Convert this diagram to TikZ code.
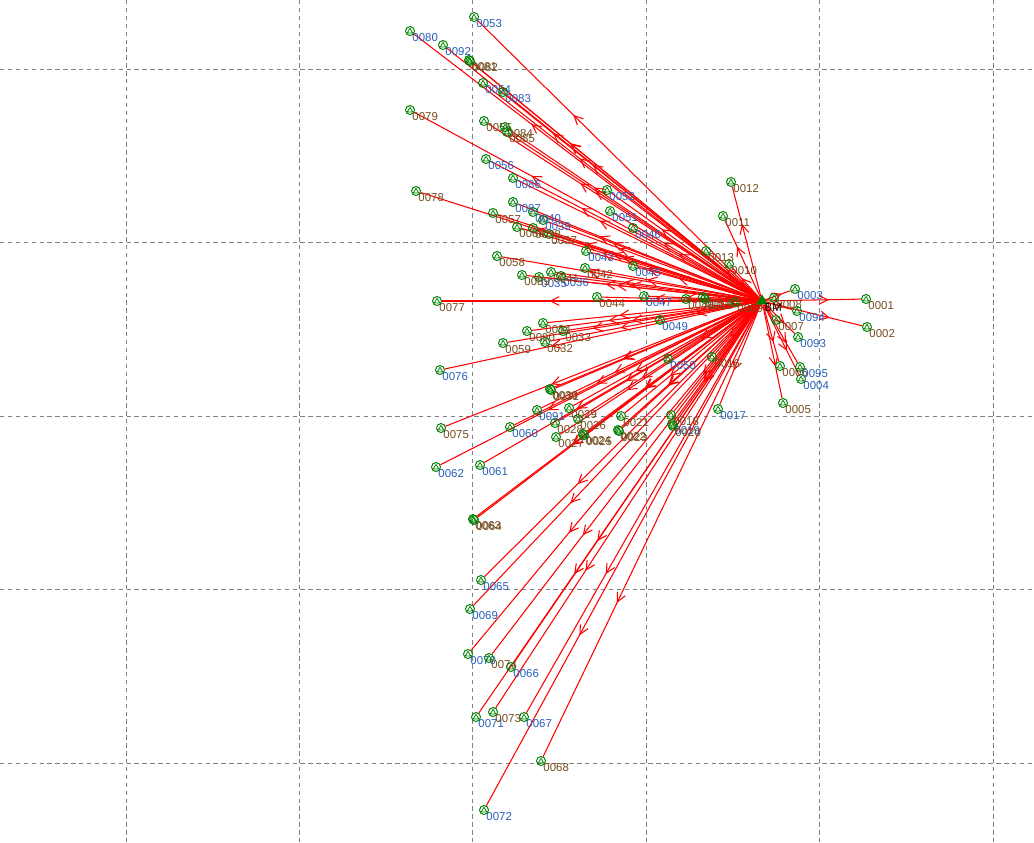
\documentclass[tikz,border=0pt]{standalone}
\usepackage{fontspec}
\setmainfont{Liberation Sans}
\usepackage{xcolor}
\usetikzlibrary{arrows.meta, decorations.markings, shapes.geometric, backgrounds}

\definecolor{labblue}{RGB}{40,95,185}
\definecolor{laborg}{RGB}{115,75,30}
\definecolor{stngreen}{RGB}{0,128,0}

\begin{document}
\begin{tikzpicture}[
  x=0.02cm, y=-0.02cm,
  stn/.style={circle, draw=stngreen, line width=0.55pt, minimum size=0.18cm, inner sep=0pt,
              path picture={\draw[stngreen, line width=0.45pt]
                ([shift={(-0.055cm,-0.04cm)}]path picture bounding box.center) --
                ([shift={(0.055cm,-0.04cm)}]path picture bounding box.center) --
                ([shift={(0cm,0.055cm)}]path picture bounding box.center) -- cycle;}},
  bmark/.style={regular polygon, regular polygon sides=3, fill=stngreen, inner sep=0pt, minimum size=0.27cm},
  labtext/.style={font=\fontsize{6.5}{7}\selectfont, inner sep=0pt, label distance=-0.04cm},
  lb/.style={label={[labtext, text=labblue]south east:#1}},
  lo/.style={label={[labtext, text=laborg]south east:#1}},
  ray/.style={red, line width=0.6pt, postaction={decorate},
              decoration={markings, mark=at position 0.66 with {\arrow{Straight Barb[length=5pt,width=5pt]}}}},
  gridline/.style={gray, line width=0.5pt, dash pattern=on 2.5pt off 2pt},
]
  \useasboundingbox (0,0) rectangle (1034,842);

  % base station
  \node[bmark, label={[labtext, text=black]south east:BM}] (bm) at (762,301) {};

  % stations
  \node[stn, lo=0001] (p0001) at (866,299) {};
  \node[stn, lo=0002] (p0002) at (867,327) {};
  \node[stn, lb=0003] (p0003) at (795,289) {};
  \node[stn, lb=0004] (p0004) at (801,379) {};
  \node[stn, lo=0005] (p0005) at (783,403) {};
  \node[stn, lo=0006] (p0006) at (780,366) {};
  \node[stn, lo=0007] (p0007) at (776,320) {};
  \node[stn, lo=0008] (p0008) at (774,298) {};
  \node[stn, lo=0009] (p0009) at (735,302) {};
  \node[stn, lo=0010] (p0010) at (729,264) {};
  \node[stn, lo=0011] (p0011) at (723,216) {};
  \node[stn, lo=0012] (p0012) at (731,182) {};
  \node[stn, lo=0013] (p0013) at (706,251) {};
  \node[stn, lo=0014] (p0014) at (703,297) {};
  \node[stn, lo=0015] (p0015) at (705,299) {};
  \node[stn, lo=0016] (p0016) at (712,357) {};
  \node[stn, lb=0017] (p0017) at (718,409) {};
  \node[stn, lo=0018] (p0018) at (671,415) {};
  \node[stn, lb=0019] (p0019) at (672,424) {};
  \node[stn, lo=0020] (p0020) at (673,426) {};
  \node[stn, lo=0021] (p0021) at (621,416) {};
  \node[stn, lo=0022] (p0022) at (618,430) {};
  \node[stn, lo=0023] (p0023) at (619,431) {};
  \node[stn, lo=0024] (p0024) at (583,434) {};
  \node[stn, lo=0025] (p0025) at (584,435) {};
  \node[stn, lo=0026] (p0026) at (578,419) {};
  \node[stn, lo=0027] (p0027) at (556,437) {};
  \node[stn, lo=0028] (p0028) at (555,423) {};
  \node[stn, lo=0029] (p0029) at (569,408) {};
  \node[stn, lo=0030] (p0030) at (550,389) {};
  \node[stn, lo=0031] (p0031) at (551,390) {};
  \node[stn, lo=0032] (p0032) at (545,342) {};
  \node[stn, lo=0033] (p0033) at (563,331) {};
  \node[stn, lo=0034] (p0034) at (543,323) {};
  \node[stn, lb=0035] (p0035) at (539,277) {};
  \node[stn, lb=0036] (p0036) at (561,276) {};
  \node[stn, lo=0037] (p0037) at (549,234) {};
  \node[stn, lo=0038] (p0038) at (533,228) {};
  \node[stn, lb=0039] (p0039) at (543,220) {};
  \node[stn, lb=0040] (p0040) at (533,212) {};
  \node[stn, lo=0041] (p0041) at (551,272) {};
  \node[stn, lo=0042] (p0042) at (585,268) {};
  \node[stn, lb=0043] (p0043) at (586,251) {};
  \node[stn, lo=0044] (p0044) at (597,297) {};
  \node[stn, lb=0045] (p0045) at (633,266) {};
  \node[stn, lb=0046] (p0046) at (633,228) {};
  \node[stn, lb=0047] (p0047) at (644,296) {};
  \node[stn, lo=0048] (p0048) at (686,299) {};
  \node[stn, lb=0049] (p0049) at (660,320) {};
  \node[stn, lb=0050] (p0050) at (668,359) {};
  \node[stn, lb=0051] (p0051) at (610,211) {};
  \node[stn, lb=0052] (p0052) at (607,190) {};
  \node[stn, lb=0053] (p0053) at (474,17) {};
  \node[stn, lb=0054] (p0054) at (483,83) {};
  \node[stn, lo=0055] (p0055) at (484,121) {};
  \node[stn, lb=0056] (p0056) at (486,159) {};
  \node[stn, lo=0057] (p0057) at (493,213) {};
  \node[stn, lo=0058] (p0058) at (497,256) {};
  \node[stn, lo=0059] (p0059) at (503,343) {};
  \node[stn, lb=0060] (p0060) at (510,427) {};
  \node[stn, lb=0061] (p0061) at (480,465) {};
  \node[stn, lb=0062] (p0062) at (436,467) {};
  \node[stn, lo=0063] (p0063) at (473,519) {};
  \node[stn, lo=0064] (p0064) at (474,520) {};
  \node[stn, lb=0065] (p0065) at (481,580) {};
  \node[stn, lb=0066] (p0066) at (511,667) {};
  \node[stn, lb=0067] (p0067) at (524,717) {};
  \node[stn, lo=0068] (p0068) at (541,761) {};
  \node[stn, lb=0069] (p0069) at (470,609) {};
  \node[stn, lb=0070] (p0070) at (468,654) {};
  \node[stn, lb=0071] (p0071) at (476,717) {};
  \node[stn, lb=0072] (p0072) at (484,810) {};
  \node[stn, lo=0073] (p0073) at (493,712) {};
  \node[stn, lo=0074] (p0074) at (489,658) {};
  \node[stn, lo=0075] (p0075) at (441,428) {};
  \node[stn, lb=0076] (p0076) at (440,370) {};
  \node[stn, lo=0077] (p0077) at (437,301) {};
  \node[stn, lo=0078] (p0078) at (416,191) {};
  \node[stn, lo=0079] (p0079) at (410,110) {};
  \node[stn, lb=0080] (p0080) at (410,31) {};
  \node[stn, lo=0081] (p0081) at (469,60) {};
  \node[stn, lo=0082] (p0082) at (470,61) {};
  \node[stn, lb=0083] (p0083) at (503,92) {};
  \node[stn, lo=0084] (p0084) at (505,127) {};
  \node[stn, lo=0085] (p0085) at (507,132) {};
  \node[stn, lb=0086] (p0086) at (513,178) {};
  \node[stn, lb=0087] (p0087) at (513,202) {};
  \node[stn, lo=0088] (p0088) at (517,227) {};
  \node[stn, lo=0089] (p0089) at (522,275) {};
  \node[stn, lo=0090] (p0090) at (527,331) {};
  \node[stn, lb=0091] (p0091) at (537,410) {};
  \node[stn, lb=0092] (p0092) at (443,45) {};
  \node[stn, lb=0093] (p0093) at (798,337) {};
  \node[stn, lb=0094] (p0094) at (797,311) {};
  \node[stn, lb=0095] (p0095) at (800,367) {};

  \begin{pgfonlayer}{background}
    % grid
    \foreach \gx in {126,299.4,472.8,646.2,819.6,993}
      \draw[gridline] (\gx,0) -- (\gx,842);
    \foreach \gy in {69,242.5,416,589.5,763}
      \draw[gridline] (0,\gy) -- (1034,\gy);
    % rays
    \foreach \p in {0001,0002,0003,0004,0005,0006,0007,0008,0009,0010,0011,0012,0013,0014,0015,0016,
                    0017,0018,0019,0020,0021,0022,0023,0024,0025,0026,0027,0028,0029,0030,0031,0032,
                    0033,0034,0035,0036,0037,0038,0039,0040,0041,0042,0043,0044,0045,0046,0047,0048,
                    0049,0050,0051,0052,0053,0054,0055,0056,0057,0058,0059,0060,0061,0062,0063,0064,
                    0065,0066,0067,0068,0069,0070,0071,0072,0073,0074,0075,0076,0077,0078,0079,0080,
                    0081,0082,0083,0084,0085,0086,0087,0088,0089,0090,0091,0092,0093,0094,0095}
      \draw[ray] (bm) -- (p\p);
  \end{pgfonlayer}
\end{tikzpicture}
\end{document}
